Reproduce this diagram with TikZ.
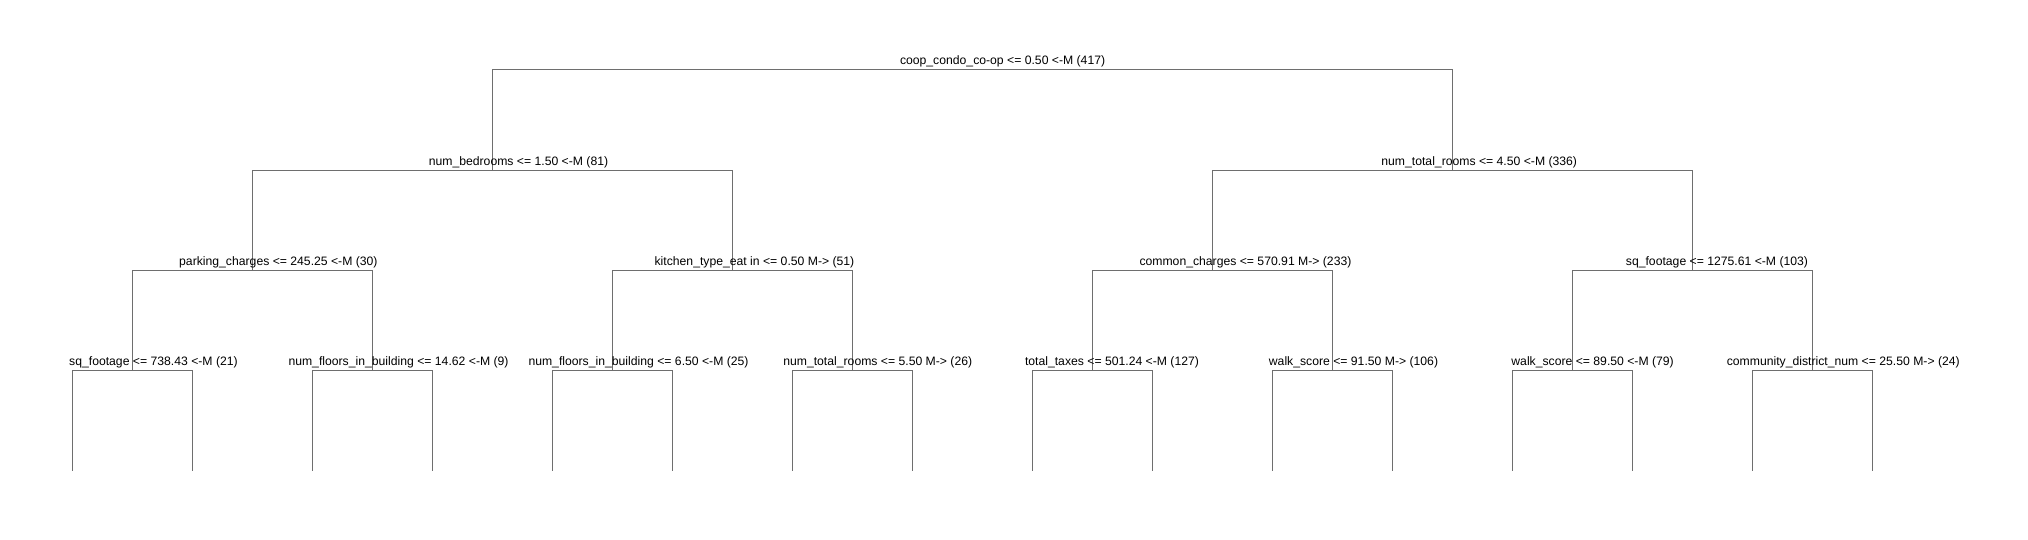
\documentclass[tikz,border=0pt]{standalone}
\usepackage{fontspec}
\setmainfont{Liberation Sans}
\definecolor{treeline}{RGB}{110,110,110}
\begin{document}
\begin{tikzpicture}[x=0.5pt,y=-0.5pt,
  edge/.style={draw=treeline,line width=0.5pt},
  lbl/.style={anchor=base west,inner sep=0pt,outer sep=0pt,font=\fontsize{6.1pt}{7pt}\selectfont,text=black}]
\useasboundingbox (0,0) rectangle (2028,540);
% internal node positions
\coordinate (n0) at (972,70);
\coordinate (n1) at (492,170);
\coordinate (n2) at (1452,170);
\coordinate (n3) at (252,270);
\coordinate (n4) at (732,270);
\coordinate (n5) at (1212,270);
\coordinate (n6) at (1692,270);
\foreach \i/\x in {7/132,8/372,9/612,10/852,11/1092,12/1332,13/1572,14/1812}
  \coordinate (n\i) at (\x,370.5);
\foreach \k in {0,...,15}
  \coordinate (leaf\k) at ({72+120*\k},470.5);
% connectors
\foreach \p/\l/\r in {n0/n1/n2,n1/n3/n4,n2/n5/n6,n3/n7/n8,n4/n9/n10,n5/n11/n12,n6/n13/n14}{
  \draw[edge] (\l) -- (\l |- \p) -- (\r |- \p) -- (\r);
}
\foreach \p/\l/\r in {n7/leaf0/leaf1,n8/leaf2/leaf3,n9/leaf4/leaf5,n10/leaf6/leaf7,n11/leaf8/leaf9,n12/leaf10/leaf11,n13/leaf12/leaf13,n14/leaf14/leaf15}{
  \draw[edge] (\l) -- (\l |- \p) -- (\r |- \p) -- (\r);
}
% labels
\node[lbl] (t0) at (900,65) {coop\_condo\_co-op <= 0.50 <-M (417)};
\node[lbl] (t1) at (428.8,165) {num\_bedrooms <= 1.50 <-M (81)};
\node[lbl] (t2) at (1381.4,165) {num\_total\_rooms <= 4.50 <-M (336)};
\node[lbl] (t3) at (179.2,265) {parking\_charges <= 245.25 <-M (30)};
\node[lbl] (t4) at (654.6,265) {kitchen\_type\_eat in <= 0.50 M-> (51)};
\node[lbl] (t5) at (1139.5,265) {common\_charges <= 570.91 M-> (233)};
\node[lbl] (t6) at (1625.9,265) {sq\_footage <= 1275.61 <-M (103)};
\node[lbl] (t7) at (69.2,365) {sq\_footage <= 738.43 <-M (21)};
\node[lbl] (t8) at (288.5,365) {num\_floors\_in\_building <= 14.62 <-M (9)};
\node[lbl] (t9) at (528.5,365) {num\_floors\_in\_building <= 6.50 <-M (25)};
\node[lbl] (t10) at (783.3,365) {num\_total\_rooms <= 5.50 M-> (26)};
\node[lbl] (t11) at (1025,365) {total\_taxes <= 501.24 <-M (127)};
\node[lbl] (t12) at (1268.9,365) {walk\_score <= 91.50 M-> (106)};
\node[lbl] (t13) at (1511.4,365) {walk\_score <= 89.50 <-M (79)};
\node[lbl] (t14) at (1726.8,365) {community\_district\_num <= 25.50 M-> (24)};
\end{tikzpicture}
\end{document}
